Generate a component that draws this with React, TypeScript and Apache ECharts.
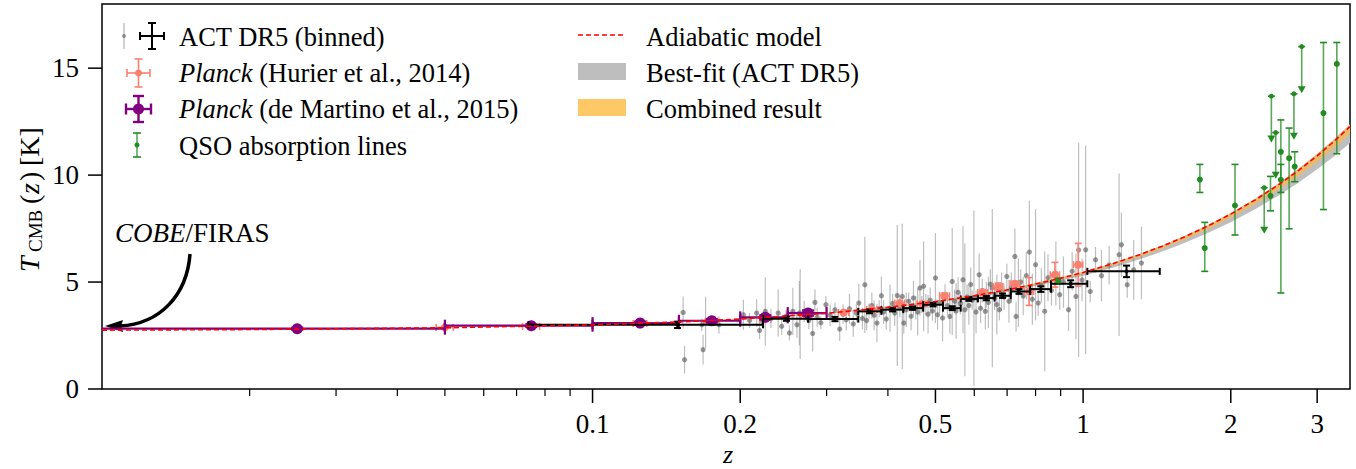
import React, { useEffect, useRef } from "react";
import * as echarts from "echarts";

const FONT = '"Liberation Serif", "Times New Roman", serif';

// ---------------- axis ticks ----------------
const xMajorTicks = [0.1, 0.2, 0.5, 1, 2, 3];
const xTickLabels = ["0.1", "0.2", "0.5", "1", "2", "3"];
const xMinorTicks = [0.02, 0.03, 0.04, 0.05, 0.06, 0.07, 0.08, 0.09, 0.3, 0.4, 0.6, 0.7, 0.8, 0.9];
const yTicks = [0, 5, 10, 15];
const yTickLabels = ["0", "5", "10", "15"];
const Z_MIN = 0.01;
const Z_MAX = 3.5;
const T_MIN = 0;
const T_MAX = 18;

// ---------------- models ----------------
const modelZ = [0.01, 0.02, 0.05, 0.1, 0.15, 0.2, 0.3, 0.4, 0.5, 0.6, 0.7, 0.8, 0.9, 1.0, 1.15, 1.3, 1.45, 1.6, 1.8, 2.0, 2.25, 2.5, 2.75, 3.0, 3.25, 3.5];
const adiabaticT = [2.753, 2.78, 2.862, 2.998, 3.134, 3.271, 3.543, 3.816, 4.088, 4.361, 4.633, 4.906, 5.178, 5.451, 5.86, 6.269, 6.677, 7.086, 7.631, 8.177, 8.858, 9.539, 10.221, 10.902, 11.583, 12.265];

const bandZ = [0.01, 0.05, 0.1, 0.2, 0.3, 0.5, 0.7, 1.0, 1.15, 1.3, 1.45, 1.6, 1.8, 2.0, 2.25, 2.5, 2.75, 3.0, 3.25, 3.5];
const bestFitLo = [2.751, 2.856, 2.986, 3.245, 3.503, 4.018, 4.529, 5.292, 5.672, 6.05, 6.426, 6.802, 7.302, 7.801, 8.422, 9.04, 9.658, 10.272, 10.885, 11.498];
const bestFitHi = [2.753, 2.862, 3.0, 3.275, 3.549, 4.098, 4.649, 5.474, 5.888, 6.302, 6.714, 7.128, 7.68, 8.233, 8.922, 9.612, 10.304, 10.994, 11.685, 12.378];
const combinedLo = [2.752, 2.859, 2.993, 3.26, 3.525, 4.056, 4.587, 5.38, 5.775, 6.171, 6.564, 6.958, 7.482, 8.007, 8.661, 9.314, 9.966, 10.617, 11.267, 11.917];
const combinedHi = [2.753, 2.863, 2.999, 3.274, 3.547, 4.096, 4.645, 5.47, 5.882, 6.295, 6.706, 7.12, 7.67, 8.221, 8.909, 9.598, 10.288, 10.977, 11.665, 12.355];

// ---------------- ACT DR5 individual clusters [z, T, err] ----------------
const actClusters: [number, number, number][] = [
  [0.153, 3.58, 0.75], [0.154, 1.37, 0.65], [0.168, 1.84, 0.7], [0.17, 3.11, 1.2], [0.167, 3.0, 0.3],
  [0.181, 3.0, 0.4], [0.203, 3.47, 0.7], [0.209, 3.2, 0.35], [0.216, 3.55, 0.65], [0.219, 2.74, 0.4],
  [0.222, 3.16, 0.3], [0.225, 3.63, 1.6], [0.231, 3.3, 0.45], [0.239, 3.55, 1.1], [0.243, 2.93, 0.4],
  [0.248, 3.4, 0.3], [0.252, 2.62, 0.35], [0.256, 3.63, 1.1], [0.261, 3.0, 0.6], [0.264, 3.55, 1.5],
  [0.265, 3.5, 2.1], [0.27, 3.63, 0.5], [0.276, 3.2, 0.4], [0.281, 2.6, 0.85], [0.284, 4.05, 0.6],
  [0.287, 3.35, 0.45], [0.292, 3.1, 0.3], [0.299, 3.94, 0.4], [0.305, 3.45, 0.5], [0.312, 3.7, 0.35],
  [0.319, 2.8, 0.55], [0.324, 3.5, 0.45], [0.329, 3.24, 0.5], [0.334, 3.75, 0.7], [0.34, 3.04, 0.6],
  [0.345, 3.55, 0.4], [0.349, 4.02, 0.9], [0.355, 3.3, 0.5], [0.359, 4.87, 2.25], [0.362, 3.2, 0.45],
  [0.366, 3.65, 0.35], [0.371, 3.9, 0.6], [0.375, 3.45, 0.7], [0.38, 3.08, 0.9], [0.384, 3.75, 0.4],
  [0.388, 4.36, 0.9], [0.392, 3.6, 0.55], [0.397, 3.27, 0.5], [0.404, 3.78, 1.1], [0.409, 4.0, 0.45],
  [0.413, 3.55, 0.6], [0.418, 4.37, 3.3], [0.423, 3.85, 0.5], [0.428, 4.33, 3.4], [0.431, 3.08, 0.5],
  [0.436, 3.7, 0.8], [0.441, 4.1, 0.4], [0.446, 3.4, 0.65], [0.451, 4.25, 0.8], [0.456, 3.8, 0.55],
  [0.46, 3.6, 1.1], [0.465, 4.72, 1.3], [0.469, 3.95, 0.4], [0.473, 4.8, 2.1], [0.478, 3.94, 0.5],
  [0.483, 3.5, 0.9], [0.488, 4.15, 0.6], [0.493, 3.65, 0.45], [0.5, 5.19, 2.1], [0.505, 3.47, 0.7],
  [0.51, 4.05, 0.5], [0.517, 3.32, 1.1], [0.523, 4.3, 0.6], [0.529, 3.9, 0.45], [0.535, 3.39, 0.8],
  [0.541, 5.03, 2.5], [0.547, 4.1, 0.55], [0.551, 3.65, 1.3], [0.556, 4.52, 0.7], [0.562, 4.0, 0.5],
  [0.569, 5.11, 2.5], [0.574, 3.7, 3.1], [0.58, 4.3, 0.6], [0.585, 3.9, 0.9], [0.59, 4.88, 0.8],
  [0.594, 4.15, 0.45], [0.599, 4.25, 4.1], [0.605, 3.6, 1.0], [0.614, 5.34, 1.0], [0.618, 3.78, 0.7],
  [0.623, 4.6, 0.55], [0.632, 3.63, 0.85], [0.635, 4.4, 0.6], [0.641, 4.05, 1.2], [0.647, 4.9, 0.7],
  [0.653, 4.72, 3.7], [0.66, 4.25, 0.55], [0.667, 3.95, 1.4], [0.675, 3.71, 0.5], [0.682, 4.55, 0.9],
  [0.69, 4.3, 0.6], [0.699, 5.26, 0.6], [0.706, 4.1, 1.0], [0.714, 4.75, 0.7], [0.726, 6.2, 1.3],
  [0.73, 3.39, 0.7], [0.738, 4.5, 1.6], [0.746, 5.0, 0.6], [0.755, 4.35, 0.9], [0.766, 5.3, 1.1],
  [0.777, 6.4, 2.4], [0.788, 4.2, 1.2], [0.8, 5.81, 2.6], [0.81, 4.02, 0.6], [0.822, 4.85, 0.8],
  [0.835, 3.63, 2.8], [0.848, 5.2, 1.1], [0.862, 4.6, 0.7], [0.88, 5.4, 1.5], [0.896, 4.41, 0.7],
  [0.912, 5.0, 1.2], [0.934, 3.71, 1.0], [0.95, 5.5, 0.9], [0.967, 4.33, 2.0], [0.979, 6.5, 5.0],
  [0.995, 5.1, 1.0], [1.012, 6.51, 4.87], [1.034, 4.56, 0.5], [1.06, 6.04, 0.6], [1.09, 5.3, 1.2],
  [1.13, 5.8, 0.9], [1.184, 6.28, 3.8], [1.197, 6.74, 1.5], [1.23, 4.87, 0.6], [1.268, 5.57, 1.4],
  [1.315, 5.89, 1.7],
];

// ---------------- ACT DR5 binned [z, T, zLo, zHi, Terr] ----------------
const actBinned: [number, number, number, number, number][] = [
  [0.149, 3.0, 0.074, 0.2226, 0.15],
  [0.2485, 3.29, 0.2226, 0.275, 0.1],
  [0.312, 3.27, 0.275, 0.348, 0.1],
  [0.367, 3.63, 0.348, 0.388, 0.09],
  [0.409, 3.71, 0.388, 0.43, 0.08],
  [0.449, 3.78, 0.43, 0.472, 0.08],
  [0.4945, 3.94, 0.472, 0.518, 0.08],
  [0.541, 3.78, 0.518, 0.563, 0.09],
  [0.585, 4.21, 0.563, 0.61, 0.09],
  [0.635, 4.25, 0.61, 0.66, 0.1],
  [0.685, 4.36, 0.66, 0.712, 0.1],
  [0.74, 4.56, 0.712, 0.78, 0.11],
  [0.82, 4.67, 0.78, 0.86, 0.13],
  [0.943, 4.92, 0.86, 1.02, 0.16],
  [1.226, 5.5, 1.02, 1.433, 0.27],
];

// ---------------- Planck (Hurier et al. 2014) [z, T, zErr, Terr] ----------------
const hurier: [number, number, number, number][] = [
  [0.05, 2.88, 0.002, 0.04], [0.075, 2.93, 0.003, 0.02], [0.125, 3.06, 0.004, 0.03],
  [0.175, 3.17, 0.005, 0.03], [0.225, 3.27, 0.006, 0.04], [0.273, 3.42, 0.007, 0.05],
  [0.325, 3.58, 0.008, 0.06], [0.371, 3.72, 0.009, 0.06], [0.423, 4.02, 0.01, 0.07],
  [0.47, 3.98, 0.011, 0.08], [0.522, 4.36, 0.012, 0.12], [0.624, 4.51, 0.014, 0.14],
  [0.671, 4.79, 0.015, 0.16], [0.726, 4.92, 0.016, 0.12], [0.776, 4.56, 0.017, 0.65],
  [0.876, 5.34, 0.019, 0.58], [0.977, 5.81, 0.021, 1.0],
];

// ---------------- Planck (de Martino et al. 2015) [z, T, zLo, zHi, Terr] ----------------
const deMartino: [number, number, number, number, number][] = [
  [0.025, 2.82, 0, 0.05, 0.05],
  [0.075, 2.96, 0.05, 0.1, 0.06],
  [0.125, 3.08, 0.1, 0.15, 0.07],
  [0.175, 3.19, 0.15, 0.2, 0.08],
  [0.225, 3.35, 0.2, 0.25, 0.1],
  [0.275, 3.55, 0.25, 0.3, 0.12],
];

// ---------------- QSO absorption lines [z, T, Tlo, Thi] ----------------
const qsoPoints: [number, number, number, number][] = [
  [0.89, 5.08, 4.98, 5.18],
  [1.73, 9.79, 9.19, 10.5],
  [1.77, 6.59, 5.5, 7.79],
  [2.04, 8.58, 7.2, 10.5],
  [2.41, 9.03, 8.33, 9.94],
  [2.53, 11.09, 9.19, 12.58],
  [2.53, 9.78, 4.49, 10.5],
  [2.63, 10.79, 7.49, 12.2],
  [2.7, 10.4, 9.69, 11.09],
  [3.09, 12.9, 8.39, 16.2],
  [3.29, 15.2, 11.0, 16.2],
];
// upper limits [z, Tlimit, arrow tip]
const qsoUpperLimits: [number, number, number][] = [
  [2.34, 9.41, 7.26],
  [2.42, 13.69, 11.52],
  [2.47, 11.99, 9.83],
  [2.69, 13.8, 11.65],
  [2.79, 16.01, 13.83],
];

const C_GREY = "#555555";
const C_SALMON = "#fa8072";
const C_PURPLE = "#800080";
const C_GREEN = "#228b22";
const C_BAND_GREY = "#bebebe";
const C_BAND_ORANGE = "#fdb94a";

type EbOpt = { color: string; lw: number; cap: number; r: number; lineOpacity?: number; capOpacity?: number; markerOpacity?: number };

function errorBarRenderer(o: EbOpt) {
  return (params: any, api: any) => {
    const z = api.value(0), t = api.value(1), zlo = api.value(2), zhi = api.value(3), tlo = api.value(4), thi = api.value(5);
    const cs = params.coordSys;
    const c = api.coord([z, t]);
    const st = { stroke: o.color, lineWidth: o.lw, opacity: o.lineOpacity ?? 1 };
    const cst = { stroke: o.color, lineWidth: o.lw, opacity: o.capOpacity ?? 1 };
    const ch: any[] = [];
    if (zhi > zlo) {
      const xl = zlo > 0 ? api.coord([zlo, t])[0] : cs.x;
      const xr = api.coord([zhi, t])[0];
      ch.push({ type: "line", shape: { x1: xl, y1: c[1], x2: xr, y2: c[1] }, style: st });
      if (o.cap > 0) {
        if (zlo > 0) ch.push({ type: "line", shape: { x1: xl, y1: c[1] - o.cap, x2: xl, y2: c[1] + o.cap }, style: cst });
        ch.push({ type: "line", shape: { x1: xr, y1: c[1] - o.cap, x2: xr, y2: c[1] + o.cap }, style: cst });
      }
    }
    if (thi > tlo) {
      const yt = api.coord([z, thi])[1];
      const yb = api.coord([z, tlo])[1];
      ch.push({ type: "line", shape: { x1: c[0], y1: yt, x2: c[0], y2: yb }, style: st });
      if (o.cap > 0) {
        ch.push({ type: "line", shape: { x1: c[0] - o.cap, y1: yt, x2: c[0] + o.cap, y2: yt }, style: cst });
        ch.push({ type: "line", shape: { x1: c[0] - o.cap, y1: yb, x2: c[0] + o.cap, y2: yb }, style: cst });
      }
    }
    if (o.r > 0) ch.push({ type: "circle", shape: { cx: c[0], cy: c[1], r: o.r }, style: { fill: o.color, opacity: o.markerOpacity ?? 1 } });
    return { type: "group", children: ch };
  };
}

function bandRenderer(lo: number[], hi: number[], fill: string, opacity: number) {
  return (params: any, api: any) => {
    if (params.dataIndex !== 0) return { type: "group", children: [] };
    const pts: number[][] = [];
    for (let i = 0; i < bandZ.length; i++) pts.push(api.coord([bandZ[i], hi[i]]));
    for (let i = bandZ.length - 1; i >= 0; i--) pts.push(api.coord([bandZ[i], lo[i]]));
    return { type: "polygon", shape: { points: pts }, style: { fill, opacity } };
  };
}

const txt = (x: number, y: number, text: string, size: number, extra: any = {}) => ({
  type: "text",
  x,
  y,
  silent: true,
  style: {
    text,
    fill: "#000",
    fontSize: size,
    fontFamily: FONT,
    textVerticalAlign: "middle",
    verticalAlign: "middle",
    ...extra,
  },
});
const ln = (x1: number, y1: number, x2: number, y2: number, stroke: string, lineWidth: number, extra: any = {}) => ({
  type: "line",
  silent: true,
  shape: { x1, y1, x2, y2 },
  style: { stroke, lineWidth, ...extra },
});
const cross = (cx: number, cy: number, hw: number, hh: number, cap: number, color: string, lw: number, r: number) => [
  ln(cx - hw, cy, cx + hw, cy, color, lw),
  ln(cx, cy - hh, cx, cy + hh, color, lw),
  ln(cx - hw, cy - cap, cx - hw, cy + cap, color, lw),
  ln(cx + hw, cy - cap, cx + hw, cy + cap, color, lw),
  ln(cx - cap, cy - hh, cx + cap, cy - hh, color, lw),
  ln(cx - cap, cy + hh, cx + cap, cy + hh, color, lw),
  { type: "circle", silent: true, shape: { cx, cy, r }, style: { fill: color } },
];

function buildOption() {
  const LEG = 26.5;
  const italicRich = { i: { fontStyle: "italic", fontSize: LEG, fontFamily: FONT, fill: "#000" } };
  const graphic: any[] = [
    // legend, left column
    ln(124, 23, 124, 49, C_GREY, 1.2, { opacity: 0.45 }),
    { type: "circle", silent: true, shape: { cx: 124, cy: 36, r: 2 }, style: { fill: C_GREY, opacity: 0.6 } },
    ...cross(152, 36, 12, 13, 4, "#000", 2, 1.8),
    txt(179, 37, "ACT DR5 (binned)", LEG),
    ...cross(138.5, 73, 11.5, 14, 4, C_SALMON, 1.6, 3.5),
    txt(179, 73, "{i|Planck} (Hurier et al., 2014)", LEG, { rich: italicRich }),
    ...cross(138.5, 109, 12.5, 13, 5.5, C_PURPLE, 2.4, 5.5),
    txt(179, 109, "{i|Planck} (de Martino et al., 2015)", LEG, { rich: italicRich }),
    ln(137, 133, 137, 157, C_GREEN, 1.6, { opacity: 0.75 }),
    ln(133, 133, 141, 133, C_GREEN, 1.6),
    ln(133, 157, 141, 157, C_GREEN, 1.6),
    { type: "circle", silent: true, shape: { cx: 137, cy: 145, r: 2.5 }, style: { fill: C_GREEN } },
    txt(179, 146, "QSO absorption lines", LEG),
    // legend, right column
    ln(578, 35, 626, 35, "#ff0000", 1.6, { lineDash: [5, 3] }),
    txt(646, 37, "Adiabatic model", LEG),
    { type: "rect", silent: true, shape: { x: 578, y: 63, width: 48, height: 17 }, style: { fill: C_BAND_GREY } },
    txt(646, 73, "Best-fit (ACT DR5)", LEG),
    { type: "rect", silent: true, shape: { x: 578, y: 99, width: 48, height: 17 }, style: { fill: "#fdc866" } },
    txt(646, 109, "Combined result", LEG),
    // COBE/FIRAS annotation
    txt(115, 233, "{i|COBE}/FIRAS", 27, { rich: { i: { fontStyle: "italic", fontSize: 27, fontFamily: FONT, fill: "#000" } } }),
    {
      type: "bezierCurve",
      silent: true,
      shape: { x1: 190, y1: 254, cpx1: 187, cpy1: 295, cpx2: 160, cpy2: 324, x2: 120, y2: 326 },
      style: { stroke: "#000", lineWidth: 3.5, fill: null },
    },
    { type: "polygon", silent: true, shape: { points: [[105, 326], [123, 320], [121, 326], [123, 332]] }, style: { fill: "#000" } },
    // axis titles
    txt(728, 454, "z", 26, { fontStyle: "italic", textAlign: "center", align: "center" }),
    {
      type: "group",
      x: 29,
      y: 272,
      rotation: Math.PI / 2,
      silent: true,
      children: [
        txt(0, 0, "T", 28, { fontStyle: "italic" }),
        txt(20, 6, "CMB", 19),
        txt(68, 0, "(", 28),
        txt(78, 0, "z", 28, { fontStyle: "italic" }),
        txt(91, 0, ")", 28),
        txt(106, 0, "[K]", 28),
      ],
    },
  ];

  const actData = actClusters.map(([z, t, e]) => [z, t, z, z, t - e, t + e]);
  const hurierData = hurier.map(([z, t, ze, te]) => [z, t, z - ze, z + ze, t - te, t + te]);
  const deMartinoData = deMartino.map(([z, t, zl, zh, te]) => [z, t, zl, zh, t - te, t + te]);
  const binData = actBinned.map(([z, t, zl, zh, te]) => [z, t, zl, zh, t - te, t + te]);
  const qsoData = qsoPoints.map(([z, t, lo, hi]) => [z, t, z, z, lo, hi]);
  const qsoLimData = qsoUpperLimits.map(([z, t, tip]) => [z, t, tip]);

  const custom = (name: string, data: any[], renderItem: any) => ({
    type: "custom",
    name,
    data,
    renderItem,
    encode: { x: 0, y: 1 },
    silent: true,
    clip: false,
  });

  return {
    animation: false,
    backgroundColor: "#fff",
    textStyle: { fontFamily: FONT },
    grid: { left: 102, right: 6, top: 4, bottom: 80, show: true, borderColor: "#000", borderWidth: 1.5, backgroundColor: "transparent" },
    xAxis: {
      type: "log",
      logBase: 10,
      min: Z_MIN,
      max: Z_MAX,
      axisLine: { show: false },
      axisTick: { show: false },
      axisLabel: { show: false },
      splitLine: { show: false },
    },
    yAxis: {
      type: "value",
      min: T_MIN,
      max: T_MAX,
      axisLine: { show: false },
      axisTick: { show: false },
      axisLabel: { show: false },
      splitLine: { show: false },
    },
    graphic,
    series: [
      custom("Best-fit (ACT DR5)", bandZ.map((z, i) => [z, bestFitLo[i], bestFitHi[i]]), bandRenderer(bestFitLo, bestFitHi, C_BAND_GREY, 1)),
      custom("ACT DR5", actData, errorBarRenderer({ color: C_GREY, lw: 1.2, cap: 0, r: 2.6, lineOpacity: 0.38, markerOpacity: 0.6 })),
      custom("Planck (Hurier et al., 2014)", hurierData, errorBarRenderer({ color: C_SALMON, lw: 1.6, cap: 3.5, r: 4 })),
      custom("Planck (de Martino et al., 2015)", deMartinoData, errorBarRenderer({ color: C_PURPLE, lw: 2.2, cap: 6, r: 5.5 })),
      {
        type: "line",
        name: "Adiabatic model",
        data: modelZ.map((z, i) => [z, adiabaticT[i]]),
        showSymbol: false,
        symbol: "none",
        silent: true,
        lineStyle: { color: "#ff0000", width: 1.6, type: [5, 3] },
      },
      custom("Combined result", bandZ.map((z, i) => [z, combinedLo[i], combinedHi[i]]), bandRenderer(combinedLo, combinedHi, C_BAND_ORANGE, 0.7)),
      custom("ACT DR5 (binned)", binData, errorBarRenderer({ color: "#000", lw: 2, cap: 3.5, r: 2 })),
      custom("QSO absorption lines", qsoData, errorBarRenderer({ color: C_GREEN, lw: 1.6, cap: 3.5, r: 3, lineOpacity: 0.75 })),
      custom("QSO upper limits", qsoLimData, (params: any, api: any) => {
        const z = api.value(0), t = api.value(1), tip = api.value(2);
        const c = api.coord([z, t]);
        const yb = api.coord([z, tip])[1];
        return {
          type: "group",
          children: [
            { type: "line", shape: { x1: c[0], y1: c[1], x2: c[0], y2: yb - 5 }, style: { stroke: C_GREEN, lineWidth: 1.6, opacity: 0.75 } },
            { type: "line", shape: { x1: c[0] - 3.5, y1: c[1], x2: c[0] + 3.5, y2: c[1] }, style: { stroke: C_GREEN, lineWidth: 1.6 } },
            { type: "circle", shape: { cx: c[0], cy: c[1], r: 2.5 }, style: { fill: C_GREEN } },
            { type: "polygon", shape: { points: [[c[0] - 4, yb - 7], [c[0] + 4, yb - 7], [c[0], yb]] }, style: { fill: C_GREEN } },
          ],
        };
      }),
      custom("x major ticks", xMajorTicks.map((v) => [v, T_MIN]), (params: any, api: any) => {
        const p = api.coord([api.value(0), T_MIN]);
        return {
          type: "group",
          children: [
            { type: "line", shape: { x1: p[0], y1: p[1], x2: p[0], y2: p[1] + 14 }, style: { stroke: "#000", lineWidth: 1.5 } },
            {
              type: "text",
              x: p[0],
              y: p[1] + 21,
              style: { text: xTickLabels[params.dataIndex], fill: "#000", fontSize: 27, fontFamily: FONT, align: "center", textAlign: "center", verticalAlign: "top", textVerticalAlign: "top" },
            },
          ],
        };
      }),
      custom("x minor ticks", xMinorTicks.map((v) => [v, T_MIN]), (params: any, api: any) => {
        const p = api.coord([api.value(0), T_MIN]);
        return { type: "line", shape: { x1: p[0], y1: p[1], x2: p[0], y2: p[1] + 7 }, style: { stroke: "#000", lineWidth: 1.2 } };
      }),
      custom("y ticks", yTicks.map((v) => [Z_MIN, v]), (params: any, api: any) => {
        const p = api.coord([Z_MIN, api.value(1)]);
        return {
          type: "group",
          children: [
            { type: "line", shape: { x1: p[0] - 14, y1: p[1], x2: p[0], y2: p[1] }, style: { stroke: "#000", lineWidth: 1.5 } },
            {
              type: "text",
              x: p[0] - 23,
              y: p[1],
              style: { text: yTickLabels[params.dataIndex], fill: "#000", fontSize: 27, fontFamily: FONT, align: "right", textAlign: "right", verticalAlign: "middle", textVerticalAlign: "middle" },
            },
          ],
        };
      }),
    ],
  };
}

export default function App() {
  const ref = useRef<HTMLDivElement>(null);
  useEffect(() => {
    if (!ref.current) return;
    const chart = echarts.init(ref.current, null, { renderer: "svg" });
    chart.setOption(buildOption() as any);
    return () => chart.dispose();
  }, []);
  return (
    <div
      ref={ref}
      style={{ position: "fixed", left: 0, top: 0, width: 1356, height: 469, background: "#fff" }}
    />
  );
}
